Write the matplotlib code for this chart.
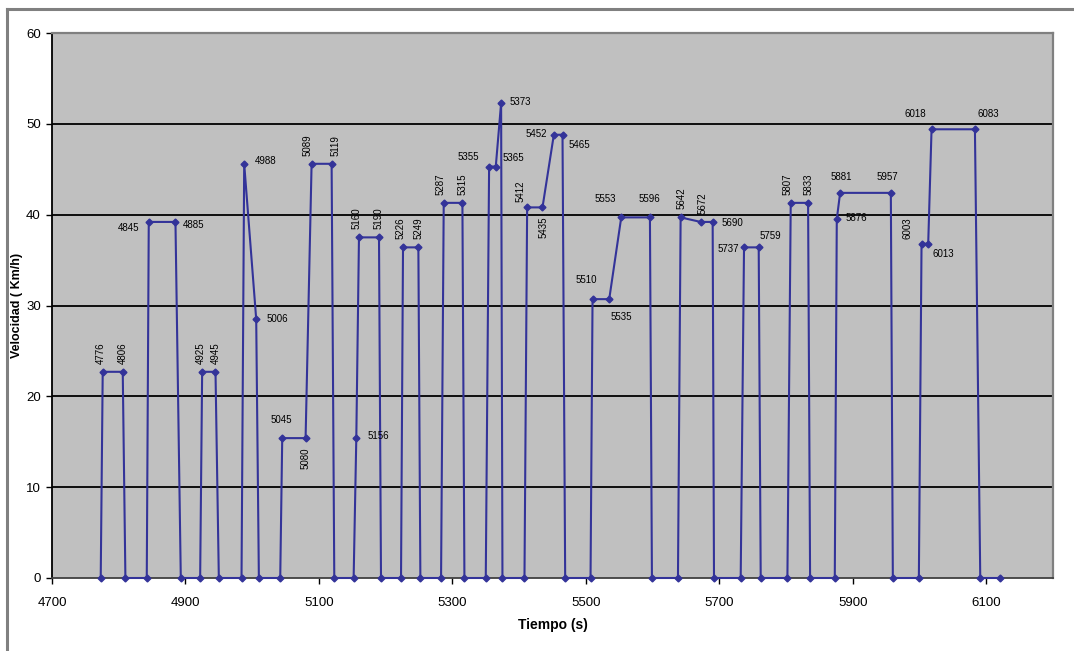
import matplotlib
matplotlib.use("Agg")
import matplotlib.pyplot as plt
from matplotlib.lines import Line2D

plt.rcParams['font.family'] = ['Liberation Sans', 'DejaVu Sans']

# Speed profile: time (s) and speed (km/h) at each recorded point
tiempo = [4773, 4776, 4806, 4810,
          4842, 4845, 4885, 4893,
          4922, 4925, 4945, 4950,
          4984, 4988, 5006, 5010,
          5042, 5045, 5080, 5089, 5119, 5123,
          5152, 5156, 5160, 5190, 5193,
          5223, 5226, 5249, 5252,
          5283, 5287, 5315, 5318,
          5350, 5355, 5365, 5373, 5375,
          5408, 5412, 5435, 5452, 5465, 5469,
          5507, 5510, 5535, 5553, 5596, 5599,
          5638, 5642, 5672, 5690, 5692,
          5732, 5737, 5759, 5762,
          5802, 5807, 5833, 5836,
          5873, 5876, 5881, 5957, 5960,
          5999, 6003, 6013, 6018, 6083, 6091,
          6120]
velocidad = [0, 22.7, 22.7, 0,
             0, 39.2, 39.2, 0,
             0, 22.7, 22.7, 0,
             0, 45.6, 28.5, 0,
             0, 15.4, 15.4, 45.6, 45.6, 0,
             0, 15.4, 37.5, 37.5, 0,
             0, 36.4, 36.4, 0,
             0, 41.3, 41.3, 0,
             0, 45.3, 45.3, 52.3, 0,
             0, 40.8, 40.8, 48.8, 48.8, 0,
             0, 30.7, 30.7, 39.7, 39.7, 0,
             0, 39.7, 39.2, 39.2, 0,
             0, 36.4, 36.4, 0,
             0, 41.3, 41.3, 0,
             0, 39.5, 42.4, 42.4, 0,
             0, 36.8, 36.8, 49.4, 49.4, 0,
             0]

# Labelled points: time, text offset (px), rotation
etiquetas = [
    (4776, -2, 8, 90), (4806, 0, 8, 90),
    (4845, -20, -6, 0), (4885, 18, -3, 0),
    (4925, -1, 8, 90), (4945, 0, 8, 90),
    (4988, 21, 3, 0), (5006, 21, 0, 0),
    (5045, -1, 18, 0), (5080, 0, -9, 90),
    (5089, -4, 8, 90), (5119, 4, 8, 90),
    (5156, 22, 2, 0), (5160, -2, 8, 90), (5190, 0, 8, 90),
    (5226, -2, 8, 90), (5249, 0, 8, 90),
    (5287, -3, 8, 90), (5315, 0, 8, 90),
    (5355, -21, 10, 0), (5365, 18, 9, 0), (5373, 19, 1, 0),
    (5412, -7, 5, 90), (5435, 1, -9, 90),
    (5452, -18, 1, 0), (5465, 17, -10, 0),
    (5510, -6, 19, 0), (5535, 12, -18, 0),
    (5553, -16, 18, 0), (5596, -1, 18, 0),
    (5642, 1, 8, 90), (5672, 2, 8, 90), (5690, 20, -1, 0),
    (5737, -16, -2, 0), (5759, 12, 11, 0),
    (5807, -3, 8, 90), (5833, 0, 8, 90),
    (5881, 1, 16, 0), (5957, -3, 16, 0), (5876, 20, 1, 0),
    (6003, -14, 5, 90), (6013, 15, -10, 0),
    (6018, -16, 15, 0), (6083, 13, 15, 0),
]

W, H = 1074, 651
fig = plt.figure(figsize=(W / 100, H / 100), dpi=100)
fig.patch.set_facecolor('white')

left, right, top, bottom = 52, 1053, 33, 578
ax = fig.add_axes([left / W, 1 - bottom / H, (right - left) / W, (bottom - top) / H])
ax.set_facecolor('#C0C0C0')

# outer chart frame (left and top edges)
fig.add_artist(Line2D([7 / W, 7 / W], [0, 1 - 9 / H], transform=fig.transFigure,
                      color='#808080', lw=2.2))
fig.add_artist(Line2D([7 / W, 1], [1 - 9 / H, 1 - 9 / H], transform=fig.transFigure,
                      color='#808080', lw=2.2))

ax.set_xlim(4700, 6200)
ax.set_ylim(0, 60)
ax.set_xticks(range(4700, 6101, 200))
ax.set_yticks(range(0, 61, 10))

for y in range(10, 60, 10):
    ax.axhline(y, color='black', lw=1.3, zorder=1)

for side in ['top', 'right']:
    ax.spines[side].set_color('#808080')
    ax.spines[side].set_linewidth(1.6)
ax.spines['left'].set_color('black')
ax.spines['left'].set_linewidth(1.3)
ax.spines['bottom'].set_color('#404040')
ax.spines['bottom'].set_linewidth(1.3)

ax.tick_params(axis='both', direction='out', length=4, width=1, colors='black',
               labelsize=9.5, pad=4)
ax.tick_params(axis='x', pad=10)

ax.plot(tiempo, velocidad, color='#333399', lw=1.5, marker='D', markersize=3.5,
        markerfacecolor='#333399', markeredgecolor='#333399', zorder=3, clip_on=False)

for t, dx, dy, rot in etiquetas:
    v = velocidad[tiempo.index(t)]
    if rot == 90:
        va = 'bottom' if dy > 0 else 'top'
        ax.annotate(str(t), (t, v), xytext=(dx * 0.72, dy * 0.72),
                    textcoords='offset points', rotation=90, fontsize=7,
                    ha='center', va=va, zorder=4)
    else:
        ax.annotate(str(t), (t, v), xytext=(dx * 0.72, dy * 0.72),
                    textcoords='offset points', fontsize=7,
                    ha='center', va='center', zorder=4)

ax.set_xlabel('Tiempo (s)', fontsize=10, fontweight='bold', labelpad=6)
ax.set_ylabel('Velocidad ( Km/h)', fontsize=9, fontweight='bold', labelpad=2)

fig.savefig('out.png', dpi=100)
